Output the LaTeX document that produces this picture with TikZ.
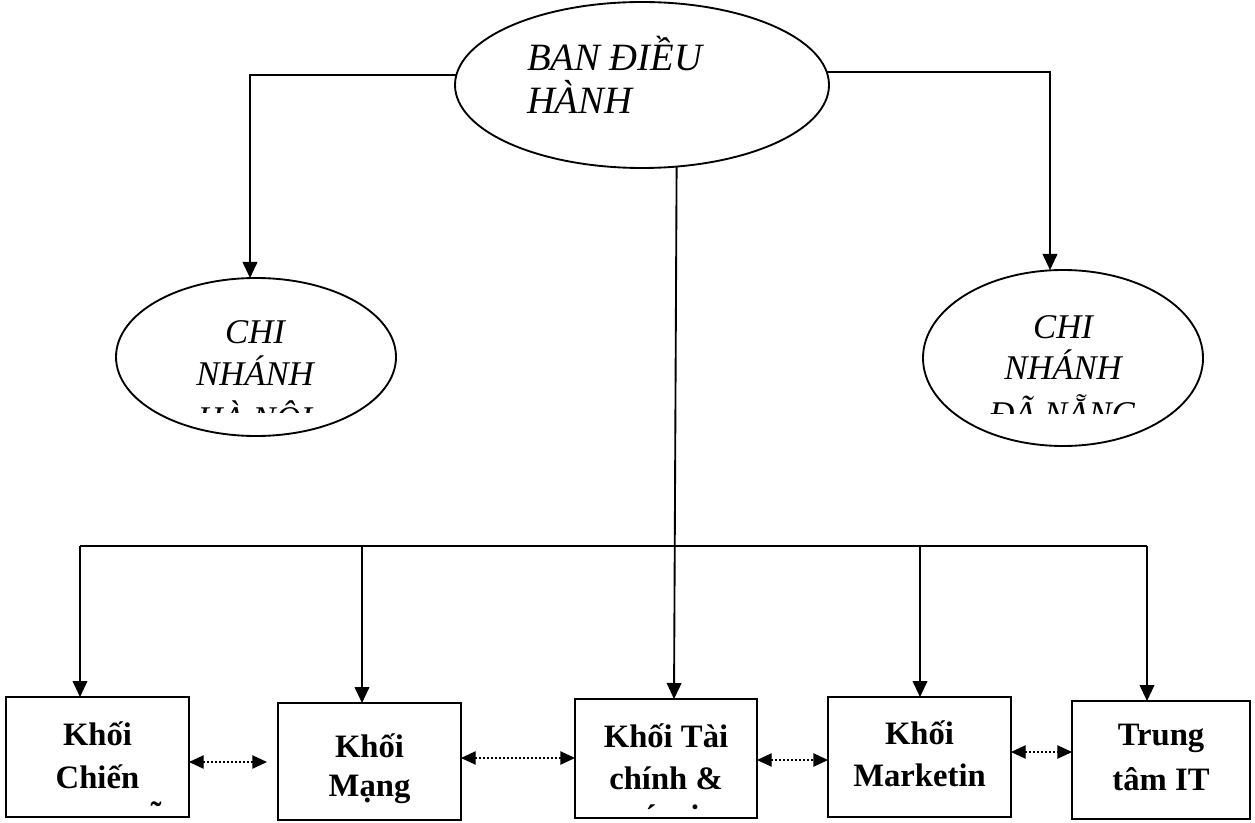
\documentclass[tikz,border=0pt]{standalone}
\usepackage{fontspec}
\setmainfont{Liberation Serif}
\usetikzlibrary{arrows.meta,shapes.geometric,calc}
\begin{document}
\begin{tikzpicture}[x=0.75pt,y=-0.75pt,
  every node/.style={inner sep=0pt,outer sep=0pt},
  oval/.style={draw,ellipse,line width=1.4pt},
  blk/.style={draw,rectangle,line width=1.4pt},
  etxt/.style={font=\fontsize{26}{32}\selectfont\itshape,anchor=base},
  ttxt/.style={font=\fontsize{29}{32}\selectfont\itshape,anchor=base west},
  btxt/.style={font=\fontsize{24.5}{32}\selectfont\bfseries,anchor=base},
  mtxt/.style={font=\fontsize{24.5}{32}\selectfont\bfseries},
  link/.style={line width=1.4pt,-{Triangle[length=12pt,width=11pt]}},
  dlink/.style={line width=1pt,dotted,{Triangle[length=11pt,width=10pt]}-{Triangle[length=11pt,width=10pt]}},
  bus/.style={line width=1.4pt}]
\useasboundingbox (0,0) rectangle (1255,823);

% ellipses
\node[oval,minimum width=280.5pt,minimum height=124.5pt] (E0) at (642,85) {};
\node[oval,minimum width=210pt,minimum height=118.5pt] (E1) at (256,357) {};
\node[oval,minimum width=210pt,minimum height=132pt] (E2) at (1063,358) {};

% boxes
\node[blk,minimum width=137.25pt,minimum height=90pt] (B1) at (97.5,757) {};
\node[blk,minimum width=137.25pt,minimum height=87.75pt] (B2) at (369.5,761.5) {};
\node[blk,minimum width=136.5pt,minimum height=89.25pt] (B3) at (666,758.5) {};
\node[blk,minimum width=137.25pt,minimum height=90pt] (B4) at (919.5,757) {};
\node[blk,minimum width=133.5pt,minimum height=88.5pt] (B5) at (1161,760) {};

% texts
\node[ttxt] (t0a) at (527,71) {BAN ĐIỀU};
\node[ttxt] (t0b) at (527,114) {HÀNH};

\node[etxt] (t1a) at (255,343) {CHI};
\node[etxt] (t1b) at (255,385) {NHÁNH};
\begin{scope}
  \clip (120,392) rectangle (392,412);
  \node[etxt] (t1c) at (255,430) {HÀ NỘI};
\end{scope}

\node[etxt] (t2a) at (1063,338) {CHI};
\node[etxt] (t2b) at (1063,379) {NHÁNH};
\begin{scope}
  \clip (930,390) rectangle (1196,413);
  \node[etxt] (t2c) at (1063,425) {ĐÃ NẴNG};
\end{scope}

\node[btxt] (b1a) at (97.5,745) {Khối};
\node[btxt] (b1b) at (97.5,788) {Chiến};
\node[mtxt] (b1c) at (156,813) {˜};

\node[btxt] (b2a) at (369.5,757) {Khối};
\node[btxt] (b2b) at (369.5,796) {Mạng};

\node[btxt] (b3a) at (666,747) {Khối Tài};
\node[btxt] (b3b) at (666,789) {chính \&};
\node[mtxt] (b3c) at (651,816) {´};
\node[mtxt] (b3d) at (695,816) {˙};

\node[btxt] (b4a) at (919.5,744) {Khối};
\node[btxt] (b4b) at (919.5,786) {Marketin};

\node[btxt] (b5a) at (1161,745) {Trung};
\node[btxt] (b5b) at (1161,790) {tâm IT};

% top connectors
\draw[link] (E0.177) -| ($(E1.north)+(-6,0)$);
\draw[link] (E0.4) -| ($(E2.north)+(-13,0)$);
\draw[link] (E0.293) -- ($(B3.north)+(8,0)$);

% bus
\coordinate (busL) at (80,546);
\coordinate (busR) at (1147,546);
\coordinate (j2) at (362,546);
\coordinate (j4) at (920,546);
\draw[bus] (busL) -- (busR);
\draw[link] (busL) -- (busL |- B1.north);
\draw[link] (j2) -- (j2 |- B2.north);
\draw[link] (j4) -- (j4 |- B4.north);
\draw[link] (busR) -- (busR |- B5.north);

% dotted two-way links
\coordinate (d1) at (267,762);
\coordinate (d2) at (0,758);
\coordinate (d3) at (0,760);
\coordinate (d4) at (0,752);
\draw[dlink] (B1.east |- d1) -- (d1);
\draw[dlink] (B2.east |- d2) -- (B3.west |- d2);
\draw[dlink] (B3.east |- d3) -- (B4.west |- d3);
\draw[dlink] (B4.east |- d4) -- (B5.west |- d4);
\end{tikzpicture}
\end{document}
